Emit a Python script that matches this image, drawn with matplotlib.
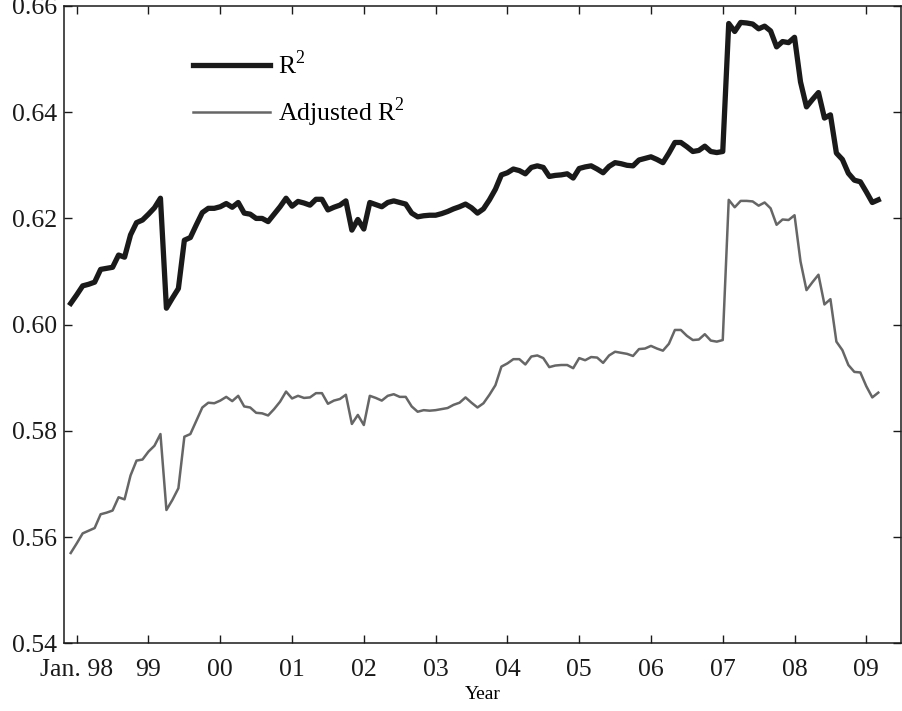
import numpy as np
import matplotlib
matplotlib.use("Agg")
import matplotlib.pyplot as plt

plt.rcParams['font.family'] = ['Liberation Serif', 'DejaVu Serif']
plt.rcParams['mathtext.fontset'] = 'custom'
plt.rcParams['mathtext.rm'] = 'Liberation Serif'

# monthly index, 0 = Jan 1998 (series runs Dec 97 .. Mar 09)
months = np.arange(-1, 135)

r2 = [0.6040, 0.6056, 0.6073, 0.6076, 0.6080, 0.6104, 0.6106, 0.6108, 0.6131, 0.6127,
      0.6169, 0.6192, 0.6197, 0.6208, 0.6220, 0.6238, 0.6031, 0.6050, 0.6068, 0.6159,
      0.6164, 0.6188, 0.6211, 0.6219, 0.6219, 0.6222, 0.6228, 0.6221, 0.6230, 0.6210,
      0.6208, 0.6200, 0.6200, 0.6194, 0.6208, 0.6222, 0.6238, 0.6223, 0.6232, 0.6229,
      0.6225, 0.6236, 0.6236, 0.6216, 0.6221, 0.6225, 0.6233, 0.6178, 0.6198, 0.6180,
      0.6230, 0.6226, 0.6222, 0.6230, 0.6233, 0.6230, 0.6227, 0.6210, 0.6203, 0.6205,
      0.6206, 0.6206, 0.6209, 0.6213, 0.6218, 0.6222, 0.6227, 0.6220, 0.6210, 0.6218,
      0.6235, 0.6255, 0.6282, 0.6286, 0.6293, 0.6290, 0.6284, 0.6296, 0.6299, 0.6296,
      0.6279, 0.6281, 0.6282, 0.6284, 0.6276, 0.6294, 0.6297, 0.6299, 0.6293, 0.6286,
      0.6298, 0.6305, 0.6303, 0.6300, 0.6299, 0.6310, 0.6313, 0.6316, 0.6311, 0.6305,
      0.6323, 0.6343, 0.6343, 0.6335, 0.6326, 0.6328, 0.6336, 0.6326, 0.6324, 0.6326,
      0.6567, 0.6552, 0.6569, 0.6568, 0.6566, 0.6557, 0.6562, 0.6553, 0.6523, 0.6533,
      0.6531, 0.6541, 0.6457, 0.6410, 0.6424, 0.6437, 0.6389, 0.6395, 0.6323, 0.6311,
      0.6285, 0.6272, 0.6269, 0.6250, 0.6230, 0.6235]

adj_r2 = [0.5570, 0.5588, 0.5607, 0.5612, 0.5617, 0.5643, 0.5646, 0.5650, 0.5675, 0.5671,
          0.5716, 0.5744, 0.5746, 0.5761, 0.5772, 0.5794, 0.5651, 0.5670, 0.5692, 0.5789,
          0.5794, 0.5819, 0.5844, 0.5853, 0.5852, 0.5857, 0.5864, 0.5856, 0.5866, 0.5846,
          0.5844, 0.5834, 0.5833, 0.5829, 0.5841, 0.5855, 0.5874, 0.5861, 0.5866, 0.5862,
          0.5863, 0.5871, 0.5871, 0.5851, 0.5857, 0.5860, 0.5868, 0.5813, 0.5830, 0.5811,
          0.5866, 0.5862, 0.5857, 0.5866, 0.5869, 0.5864, 0.5864, 0.5846, 0.5836, 0.5839,
          0.5838, 0.5839, 0.5841, 0.5843, 0.5849, 0.5853, 0.5863, 0.5853, 0.5844, 0.5852,
          0.5868, 0.5886, 0.5921, 0.5927, 0.5935, 0.5935, 0.5925, 0.5940, 0.5942, 0.5937,
          0.5920, 0.5923, 0.5924, 0.5924, 0.5918, 0.5937, 0.5933, 0.5939, 0.5938, 0.5928,
          0.5942, 0.5949, 0.5947, 0.5945, 0.5941, 0.5954, 0.5955, 0.5960, 0.5955, 0.5951,
          0.5964, 0.5990, 0.5990, 0.5979, 0.5971, 0.5972, 0.5982, 0.5970, 0.5968, 0.5971,
          0.6235, 0.6221, 0.6233, 0.6233, 0.6232, 0.6224, 0.6230, 0.6219, 0.6188, 0.6198,
          0.6197, 0.6206, 0.6119, 0.6065, 0.6080, 0.6094, 0.6038, 0.6048, 0.5968, 0.5952,
          0.5924, 0.5911, 0.5910, 0.5884, 0.5863, 0.5872]

year_ticks = np.arange(0, 133, 12)
year_labels = ['Jan. 98', '99', '00', '01', '02', '03', '04', '05', '06', '07', '08', '09']
y_ticks = [0.54, 0.56, 0.58, 0.60, 0.62, 0.64, 0.66]

fig = plt.figure(figsize=(9.02, 7.11), dpi=100)
ax = fig.add_axes([0.0713, 0.0952, 0.9276, 0.8964])

ax.plot(months, r2, color='#1a1a1a', linewidth=3.8, label='R$^{2}$')
ax.plot(months, adj_r2, color='#666666', linewidth=1.8, label='Adjusted R$^{2}$')

ax.set_xlim(-2.07, 137.8)
ax.set_ylim(0.54, 0.66)
ax.set_xticks(year_ticks)
ax.set_xticklabels(year_labels)
ax.set_yticks(y_ticks)
ax.set_yticklabels(['%.2f' % v for v in y_ticks])
ax.tick_params(direction='in', length=6, width=1, top=True, right=True,
               labelsize=18.5, colors='#1a1a1a')
ax.tick_params(axis='x', pad=11)
ax.tick_params(axis='y', pad=5)
for s in ax.spines.values():
    s.set_linewidth(1.1)
    s.set_color('#1a1a1a')

ax.set_xlabel('Year', fontsize=14, labelpad=4)

leg = ax.legend(loc='upper left', bbox_to_anchor=(0.126, 0.966), frameon=False,
                fontsize=18.5, handlelength=3.0, handletextpad=0.3, labelspacing=0.62)

fig.savefig('out.png', dpi=100)
